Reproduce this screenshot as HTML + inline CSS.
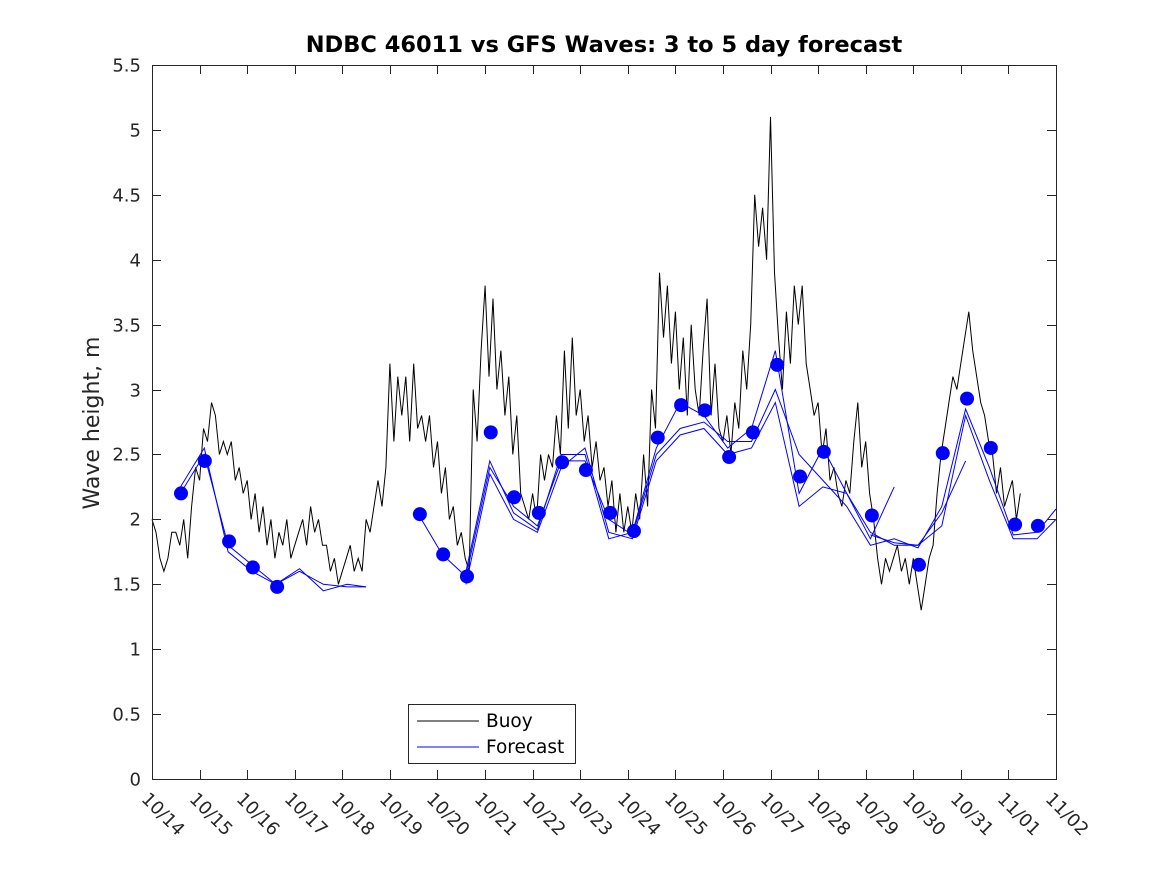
<!DOCTYPE html>
<html><head><meta charset="utf-8"><style>
html,body{margin:0;padding:0;background:#fff;}
svg{display:block;font-family:"DejaVu Sans","Liberation Sans",sans-serif;}
</style></head><body>
<svg id="chart" width="1167" height="875" viewBox="0 0 1167 875" xmlns="http://www.w3.org/2000/svg">
<rect width="1167" height="875" fill="#fff"/>
<text x="604" y="52" text-anchor="middle" font-size="22.5" font-weight="bold" fill="#000">NDBC 46011 vs GFS Waves: 3 to 5 day forecast</text>
<text transform="translate(99,423) rotate(-90)" text-anchor="middle" font-size="22" fill="#262626">Wave height, m</text>
<g id="plot"></g>
<rect x="152.5" y="65.5" width="904" height="714" fill="none" stroke="#262626" stroke-width="1"/>
<g id="axes"></g>
<g>
<rect x="408.5" y="704.5" width="167" height="59" fill="#fff" stroke="#262626"/>
<line x1="417" y1="721" x2="479" y2="721" stroke="#000"/>
<text x="486" y="727" font-size="18.5" fill="#000">Buoy</text>
<line x1="417" y1="747" x2="479" y2="747" stroke="#00f"/>
<text x="486" y="753" font-size="18.5" fill="#000">Forecast</text>
</g>
</svg>
<script>
// Data
const xTickLabels = ["10/14","10/15","10/16","10/17","10/18","10/19","10/20","10/21","10/22","10/23","10/24","10/25","10/26","10/27","10/28","10/29","10/30","10/31","11/01","11/02"];
const yTickLabels = ["0","0.5","1","1.5","2","2.5","3","3.5","4","4.5","5","5.5"];
const yTickValues = [0,0.5,1,1.5,2,2.5,3,3.5,4,4.5,5,5.5];
// buoy: 12 samples/day (every 2 h) starting 10/14 00:00
const buoyValues = [
2.0,1.9,1.7,1.6,1.7,1.9,1.9,1.8,2.0,1.7,2.1,2.4,
2.3,2.7,2.6,2.9,2.8,2.5,2.6,2.5,2.6,2.3,2.4,2.2,
2.3,2.0,2.2,1.9,2.1,1.8,2.0,1.7,1.9,1.8,2.0,1.7,
1.8,1.9,2.0,1.8,2.1,1.9,2.0,1.8,1.8,1.6,1.7,1.5,
1.6,1.7,1.8,1.6,1.7,1.6,2.0,1.9,2.1,2.3,2.1,2.4,
3.2,2.6,3.1,2.8,3.1,2.6,3.2,2.7,2.8,2.6,2.8,2.4,
2.6,2.2,2.4,2.0,2.1,1.8,1.9,1.7,1.6,3.0,2.6,3.3,
3.8,3.1,3.7,3.0,3.3,2.8,3.1,2.5,2.8,2.2,2.1,2.0,
2.2,2.0,2.5,2.3,2.5,2.4,2.8,2.5,3.3,2.7,3.4,2.8,
3.0,2.6,2.8,2.4,2.6,2.3,2.4,2.1,2.3,1.9,2.2,1.9,
2.1,1.9,2.2,2.0,2.5,2.1,3.0,2.7,3.9,3.4,3.8,3.2,
3.6,3.0,3.4,2.8,3.5,3.0,2.8,3.3,3.7,2.8,3.2,2.7,
2.6,2.8,2.5,2.9,2.7,3.3,3.0,3.5,4.5,4.1,4.4,4.0,
5.1,3.9,3.4,3.0,3.6,3.2,3.8,3.5,3.8,3.2,3.0,2.8,
2.9,2.5,2.7,2.3,2.4,2.2,2.1,2.3,2.2,2.6,2.9,2.4,
2.6,2.2,2.0,1.7,1.5,1.7,1.6,1.7,1.8,1.6,1.7,1.5,
1.7,1.5,1.3,1.5,1.7,1.8,2.2,2.5,2.7,2.9,3.1,3.0,
3.2,3.4,3.6,3.3,3.1,2.9,2.8,2.6,2.5,2.2,2.4,2.1,
2.2,2.3,2.0,2.2];
// forecast runs on a half-day grid (days since 10/14)
const fcDays = [0.6,1.1,1.6,2.1,2.6,3.1,3.6,4.1,4.5,5.1,5.6,6.1,6.6,7.1,7.6,8.1,8.6,9.1,9.6,10.1,10.6,11.1,11.6,12.1,12.6,13.1,13.6,14.1,14.6,15.1,15.6,16.1,16.6,17.1,17.6,18.1,18.6,19.0];
const run1 = [2.2,2.5,1.8,1.65,1.5,1.6,1.5,1.48,1.48,null,2.04,1.73,1.56,2.4,2.1,1.95,2.45,2.45,2.0,1.88,2.5,2.7,2.75,2.6,2.6,3.0,2.5,2.3,2.1,1.8,1.85,1.78,2.1,2.85,2.4,1.88,1.9,2.08];
const run2 = [2.25,2.55,1.75,1.6,1.5,1.62,1.45,1.5,1.48,null,null,null,1.6,2.45,2.05,1.92,2.5,2.5,1.85,1.9,2.55,2.9,2.8,2.55,2.7,3.3,2.2,2.55,2.2,1.85,2.25,null,null,null,null,null,null,null];
const run3 = [null,null,null,null,null,null,null,null,null,null,null,null,1.5,2.35,2.0,1.9,2.4,2.55,1.9,1.85,2.45,2.65,2.7,2.5,2.55,2.9,2.1,2.25,2.2,1.9,1.8,1.8,1.95,2.8,2.3,1.85,1.85,2.0];
const run4 = [null,null,null,null,null,null,null,null,null,null,null,null,null,null,null,null,null,null,null,null,null,null,null,null,null,null,null,null,null,1.88,1.82,1.8,2.05,2.45,null,null,null,null];
const dotDays = [0.61,1.11,1.62,2.12,2.63,5.63,6.12,6.62,7.12,7.61,8.13,8.62,9.12,9.63,10.13,10.63,11.12,11.62,12.13,12.63,13.14,13.62,14.12,15.13,16.12,16.62,17.13,17.63,18.14,18.62];
const dotValues = [2.2,2.45,1.83,1.63,1.48,2.04,1.73,1.56,2.67,2.17,2.05,2.44,2.38,2.05,1.91,2.63,2.88,2.84,2.48,2.67,3.19,2.33,2.52,2.03,1.65,2.51,2.93,2.55,1.96,1.95];

const X0=152, X1=1056, Y0=779, Y1=65;
const xs = d => X0 + d*(X1-X0)/19;
const ys = v => Y0 - v*(Y0-Y1)/5.5;
const NS="http://www.w3.org/2000/svg";
const plot=document.getElementById('plot'), axes=document.getElementById('axes');
function mk(tag,attrs,parent){const e=document.createElementNS(NS,tag);for(const k in attrs)e.setAttribute(k,attrs[k]);parent.appendChild(e);return e;}

let d="";
buoyValues.forEach((v,i)=>{d+=(i?"L":"M")+xs(i/12).toFixed(1)+","+ys(v).toFixed(1);});
const bl=mk('path',{d:d,fill:"none",stroke:"#000","stroke-width":1},plot);



[run1,run2,run3,run4].forEach((run,ri)=>{
  let p="",pen=false;
  run.forEach((v,i)=>{if(v===null){pen=false;return;}p+=(pen?"L":"M")+xs(fcDays[i]).toFixed(1)+","+ys(v).toFixed(1);pen=true;});
  const e=mk('path',{d:p,fill:"none",stroke:"#00f","stroke-width":1},plot);
  
  
});
dotValues.forEach((v,i)=>{
  const c=mk('circle',{cx:xs(dotDays[i]),cy:ys(v),r:7,fill:"#00f"},plot);
  
  
});

yTickValues.forEach((v,i)=>{
  const y=Math.round(ys(v))+0.5;
  mk('line',{x1:X0,y1:y,x2:X0+9,y2:y,stroke:"#262626"},axes);
  mk('line',{x1:X1,y1:y,x2:X1-9,y2:y,stroke:"#262626"},axes);
  const t=mk('text',{x:141,y:y+6,"text-anchor":"end","font-size":18,fill:"#262626"},axes);
  t.textContent=yTickLabels[i];
  
  
});
xTickLabels.forEach((lab,i)=>{
  const x=Math.round(xs(i))+0.5;
  mk('line',{x1:x,y1:Y0,x2:x,y2:Y0-9,stroke:"#262626"},axes);
  mk('line',{x1:x,y1:Y1,x2:x,y2:Y1+9,stroke:"#262626"},axes);
  const t=mk('text',{transform:"translate("+(x-12)+",800) rotate(45)","font-size":18,fill:"#262626"},axes);
  t.textContent=lab;
  
  
});
</script>
</body></html>
